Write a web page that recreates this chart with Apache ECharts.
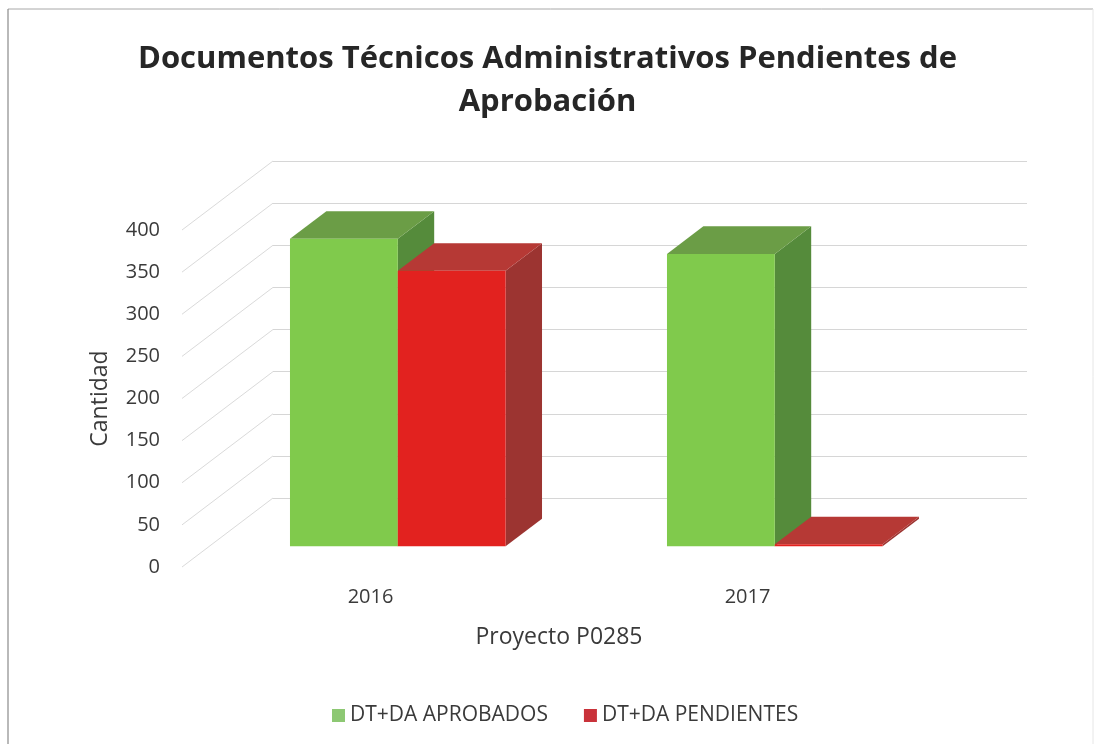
<!DOCTYPE html>
<html lang="es">
<head>
  <meta charset="UTF-8" />
  <title>Documentos Técnicos Administrativos Pendientes de Aprobación</title>
  <script src="https://cdn.jsdelivr.net/npm/echarts@6/dist/echarts.min.js"></script>
  <style>
    html, body { margin: 0; padding: 0; background: #fff; }
    #main { width: 1095px; height: 744px; }
  </style>
</head>
<body>
  <div id="main"></div>
  <script>
    // datos
    const years = ['2016', '2017']
    const aprobados = [365, 347]
    const pendientes = [327, 0]
    const yTicks = [0, 50, 100, 150, 200, 250, 300, 350, 400]

    const FONT = "'Open Sans', 'Noto Sans', sans-serif"
    const TXT = '#3a3a3a'
    // vector de profundidad (de la pared del fondo al frente)
    const DEPTH = [-91, 69]
    const FRONT = 0.7, BACK = 0.3

    const palette = {
      green: { front: '#80ca4c', top: '#6b9d46', side: '#558b3b', legend: '#8dc873' },
      red: { front: '#e2221f', top: '#b63935', side: '#9c3431', legend: '#c9323a' }
    }

    function box(pal, slot) {
      return function (params, api) {
        let cat = api.value(0)
        let top = api.coord([cat, api.value(1)])
        let base = api.coord([cat, 0])
        let band = api.size([1, 0])[0]
        let w = band * 0.286
        let x0 = top[0] + slot * w, x1 = x0 + w
        let fx = DEPTH[0] * FRONT, fy = DEPTH[1] * FRONT
        let bx = DEPTH[0] * BACK, by = DEPTH[1] * BACK
        // una barra en 0 se dibuja como una placa delgada
        let ty = Math.min(top[1], base[1] - 2)
        let yb = base[1]
        return {
          type: 'group',
          children: [
            {
              type: 'polygon',
              shape: { points: [[x1 + fx, ty + fy], [x1 + bx, ty + by], [x1 + bx, yb + by], [x1 + fx, yb + fy]] },
              style: { fill: pal.side }
            },
            {
              type: 'polygon',
              shape: { points: [[x0 + fx, ty + fy], [x1 + fx, ty + fy], [x1 + bx, ty + by], [x0 + bx, ty + by]] },
              style: { fill: pal.top }
            },
            {
              type: 'rect',
              shape: { x: x0 + fx, y: ty + fy, width: w, height: yb - ty },
              style: { fill: pal.front }
            }
          ]
        }
      }
    }

    // lineas de la pared lateral
    function sideWall(params, api) {
      let p = api.coord([0, api.value(1)])
      let x = params.coordSys.x
      return {
        type: 'line',
        shape: { x1: x + DEPTH[0], y1: p[1] + DEPTH[1], x2: x, y2: p[1] },
        style: { stroke: '#dadada', lineWidth: 1 },
        silent: true
      }
    }

    var myChart = echarts.init(document.getElementById('main'))

    var option = {
      backgroundColor: '#fff',
      animation: false,
      title: {
        text: 'Documentos Técnicos Administrativos Pendientes de\nAprobación',
        left: 'center',
        top: 33,
        padding: [5, 5, 5, 19],
        textStyle: { fontFamily: FONT, fontSize: 31, fontWeight: 'bold', color: '#262626', lineHeight: 43 }
      },
      legend: {
        left: 327,
        top: 700,
        itemWidth: 13,
        itemHeight: 13,
        itemGap: 36,
        icon: 'rect',
        textStyle: { fontFamily: FONT, fontSize: 21, color: TXT },
        data: ['DT+DA APROBADOS', 'DT+DA PENDIENTES']
      },
      graphic: [
        { type: 'line', shape: { x1: 8, y1: 9, x2: 1093, y2: 9 }, style: { stroke: '#a8a8a8', lineWidth: 1 } },
        { type: 'line', shape: { x1: 8, y1: 9, x2: 8, y2: 744 }, style: { stroke: '#8a8a8a', lineWidth: 1.2 } },
        { type: 'line', shape: { x1: 1093, y1: 9, x2: 1093, y2: 744 }, style: { stroke: '#e6e6e6', lineWidth: 1 } }
      ],
      grid: [
        // pared del fondo
        { left: 273, right: 68, top: 161, bottom: 246 },
        // plano frontal (etiquetas)
        { left: 182, right: 159, top: 230, bottom: 177 }
      ],
      xAxis: [
        { gridIndex: 0, type: 'category', data: years, show: false },
        {
          gridIndex: 1, type: 'category', data: years,
          axisLine: { show: false }, axisTick: { show: false },
          axisLabel: { fontFamily: FONT, fontSize: 20, color: TXT, margin: 20 },
          name: 'Proyecto P0285', nameLocation: 'middle', nameGap: 59,
          nameTextStyle: { fontFamily: FONT, fontSize: 23, color: TXT }
        }
      ],
      yAxis: [
        {
          gridIndex: 0, type: 'value', min: 0, max: 400, interval: 50,
          axisLine: { show: false }, axisTick: { show: false }, axisLabel: { show: false },
          splitLine: { lineStyle: { color: '#d6d6d6', width: 1 } }
        },
        {
          gridIndex: 1, type: 'value', min: 0, max: 400, interval: 50,
          axisLine: { show: false }, axisTick: { show: false }, splitLine: { show: false },
          axisLabel: { fontFamily: FONT, fontSize: 20, color: TXT, margin: 22 },
          name: 'Cantidad', nameLocation: 'middle', nameGap: 70,
          nameTextStyle: { fontFamily: FONT, fontSize: 23, color: TXT }
        }
      ],
      series: [
        {
          type: 'custom', name: 'lateral', xAxisIndex: 0, yAxisIndex: 0,
          renderItem: sideWall, silent: true,
          data: yTicks.map(v => [0, v])
        },
        {
          type: 'custom', name: 'DT+DA APROBADOS', xAxisIndex: 0, yAxisIndex: 0,
          itemStyle: { color: palette.green.legend },
          renderItem: box(palette.green, -1),
          data: aprobados.map((v, i) => [i, v])
        },
        {
          type: 'custom', name: 'DT+DA PENDIENTES', xAxisIndex: 0, yAxisIndex: 0,
          itemStyle: { color: palette.red.legend },
          renderItem: box(palette.red, 0),
          data: pendientes.map((v, i) => [i, v])
        }
      ]
    }

    myChart.setOption(option)
  </script>
</body>
</html>
